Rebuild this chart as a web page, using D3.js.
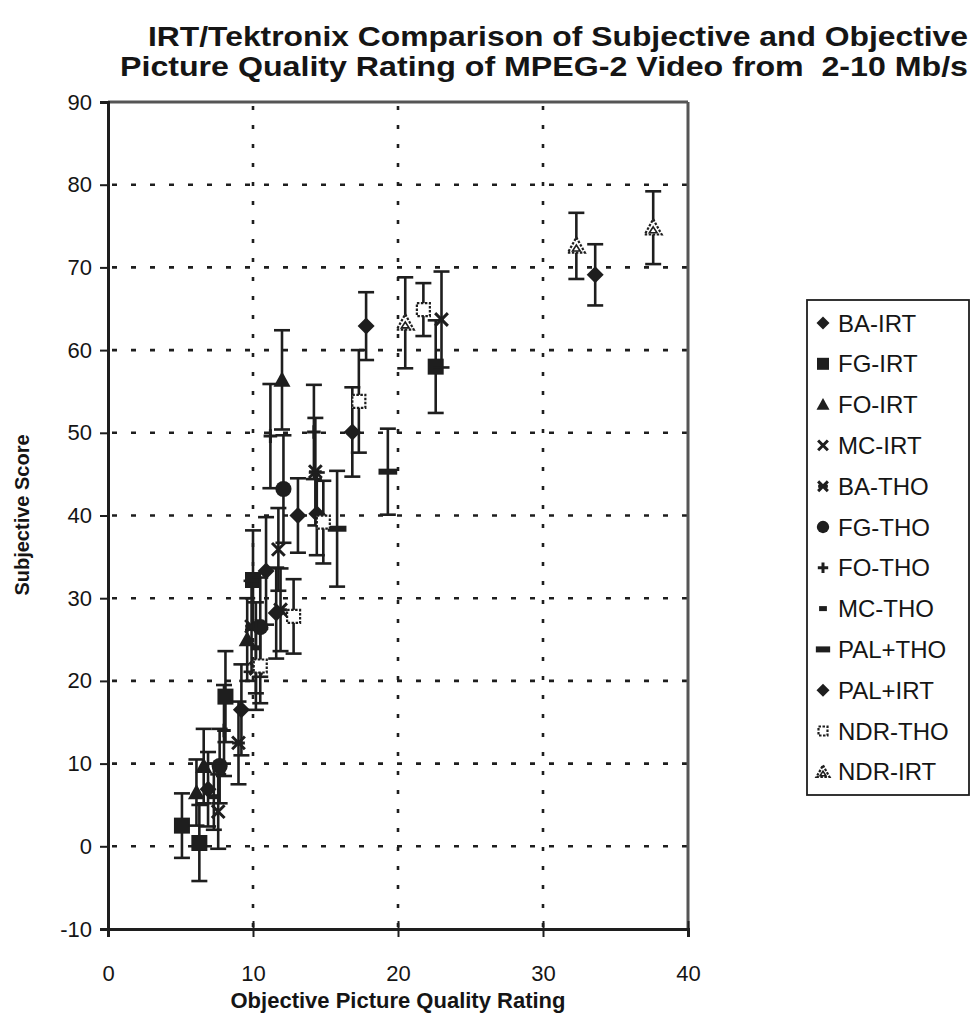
<!DOCTYPE html>
<html>
<head>
<meta charset="utf-8">
<script src="https://cdn.jsdelivr.net/npm/d3@7"></script>
<style>
  body { margin: 0; background: #fff; }
  text { font-family: "Liberation Sans", Arial, sans-serif; fill: #151515; }
</style>
</head>
<body>
<svg id="chart" width="977" height="1033"></svg>
<script>
// series names, in legend order
var seriesNames = ["BA-IRT", "FG-IRT", "FO-IRT", "MC-IRT", "BA-THO", "FG-THO",
                   "FO-THO", "MC-THO", "PAL+THO", "PAL+IRT", "NDR-THO", "NDR-IRT"];
var markerTypes = ["diamond", "square", "triangle", "cross", "star", "circle",
                   "plus", "dash", "bar", "diamond", "dotsquare", "dottri"];

// objective rating (x), subjective score (y), error half-length
var xBA_IRT = [6.9, 9.2, 10.9, 13.1, 17.8];
var yBA_IRT = [6.9, 16.5, 33.3, 40.0, 62.9];
var eBA_IRT = [4.5, 5.5, 6.5, 4.5, 4.1];

var xFG_IRT = [5.1, 6.3, 8.1, 10.0, 22.6];
var yFG_IRT = [2.5, 0.4, 18.1, 32.2, 58.0];
var eFG_IRT = [3.9, 4.6, 5.5, 6.0, 5.6];

var xFO_IRT = [6.1, 6.6, 9.6, 12.0];
var yFO_IRT = [6.5, 9.7, 25.0, 56.4];
var eFO_IRT = [4.0, 4.5, 5.0, 6.0];

var xMC_IRT = [7.6, 10.2, 11.75, 23.0];
var yMC_IRT = [4.2, 21.5, 35.9, 63.7];
var eMC_IRT = [4.5, 5.0, 5.0, 5.8];

var xBA_THO = [9.0, 9.9, 11.9, 14.3];
var yBA_THO = [12.5, 26.6, 28.6, 45.3];
var eBA_THO = [5.0, 5.5, 5.0, 6.5];

var xFG_THO = [7.7, 10.5, 12.1];
var yFG_THO = [9.7, 26.5, 43.2];
var eFG_THO = [4.5, 6.0, 6.5];

var xFO_THO = [8.0, 11.2, 14.2];
var yFO_THO = [14.0, 49.6, 50.1];
var eFO_THO = [5.5, 6.3, 5.7];

var xMC_THO = [7.3, 10.2];
var yMC_THO = [6.0, 24.0];
var eMC_THO = [4.0, 5.5];

var xPAL_THO = [15.8, 19.3];
var yPAL_THO = [38.4, 45.3];
var ePAL_THO = [7.0, 5.2];

var xPAL_IRT = [11.6, 14.4, 16.85, 33.6];
var yPAL_IRT = [28.2, 40.2, 50.1, 69.1];
var ePAL_IRT = [5.5, 5.0, 5.4, 3.7];

var xNDR_THO = [10.5, 12.8, 14.85, 17.3, 21.75];
var yNDR_THO = [21.8, 27.8, 39.2, 53.8, 64.9];
var eNDR_THO = [4.5, 4.5, 5.0, 6.2, 3.2];

var xNDR_IRT = [20.5, 32.3, 37.6];
var yNDR_IRT = [63.3, 72.6, 74.8];
var eNDR_IRT = [5.5, 4.0, 4.4];

var xTicks = [0, 10, 20, 30, 40];
var yTicks = [-10, 0, 10, 20, 30, 40, 50, 60, 70, 80, 90];

var titleLines = ["IRT/Tektronix Comparison of Subjective and Objective",
                  "Picture Quality Rating of MPEG-2 Video from\u00a0 2-10 Mb/s"];

var allX = [xBA_IRT, xFG_IRT, xFO_IRT, xMC_IRT, xBA_THO, xFG_THO, xFO_THO, xMC_THO, xPAL_THO, xPAL_IRT, xNDR_THO, xNDR_IRT];
var allY = [yBA_IRT, yFG_IRT, yFO_IRT, yMC_IRT, yBA_THO, yFG_THO, yFO_THO, yMC_THO, yPAL_THO, yPAL_IRT, yNDR_THO, yNDR_IRT];
var allE = [eBA_IRT, eFG_IRT, eFO_IRT, eMC_IRT, eBA_THO, eFG_THO, eFO_THO, eMC_THO, ePAL_THO, ePAL_IRT, eNDR_THO, eNDR_IRT];

////////////////
// layout
////////////////
var plot = { left: 108, top: 102, right: 688, bottom: 929 };
var ink = "#1e1e1e";

var svg = d3.select("#chart");

var x = d3.scaleLinear().domain([0, 40]).range([plot.left, plot.right]);
var y = d3.scaleLinear().domain([-10, 90]).range([plot.bottom, plot.top]);

// title
svg.selectAll(".title")
    .data(titleLines)
    .enter()
    .append("text")
        .attr("class", "title")
        .attr("x", function(d, i) { return i === 0 ? 558 : 544; })
        .attr("y", function(d, i) { return 46 + i * 30; })
        .attr("text-anchor", "middle")
        .attr("font-size", 28)
        .attr("font-weight", "bold")
        .attr("textLength", function(d, i) { return i === 0 ? 820 : 848; })
        .attr("lengthAdjust", "spacingAndGlyphs")
        .text(function(d) { return d; });

// gridlines
svg.append("g").selectAll("line")
    .data(yTicks.filter(function(v) { return v > -10 && v < 90; }))
    .enter()
    .append("line")
        .attr("x1", plot.left + 4).attr("x2", plot.right)
        .attr("y1", function(d) { return y(d); })
        .attr("y2", function(d) { return y(d); })
        .attr("stroke", ink)
        .attr("stroke-width", 2.6)
        .attr("stroke-dasharray", "5,14");

svg.append("g").selectAll("line")
    .data(xTicks.filter(function(v) { return v > 0 && v < 40; }))
    .enter()
    .append("line")
        .attr("x1", function(d) { return x(d); })
        .attr("x2", function(d) { return x(d); })
        .attr("y1", plot.top + 4).attr("y2", plot.bottom)
        .attr("stroke", ink)
        .attr("stroke-width", 2.6)
        .attr("stroke-dasharray", "4,15");

// frame: top/right lighter, left/bottom solid axes
svg.append("line")
    .attr("x1", plot.left).attr("x2", plot.right)
    .attr("y1", plot.top).attr("y2", plot.top)
    .attr("stroke", "#555").attr("stroke-width", 3);
svg.append("line")
    .attr("x1", plot.right).attr("x2", plot.right)
    .attr("y1", plot.top).attr("y2", plot.bottom)
    .attr("stroke", "#555").attr("stroke-width", 3);

// y axis
var yAxis = d3.axisLeft(y).tickValues(yTicks).tickSize(8).tickPadding(8)
    .tickFormat(function(d) { return String(d); });
var gy = svg.append("g")
    .attr("transform", "translate(" + plot.left + ",0)")
    .call(yAxis);
gy.select(".domain").attr("stroke", ink).attr("stroke-width", 3);
gy.selectAll(".tick line").attr("stroke", ink).attr("stroke-width", 2);
gy.selectAll(".tick text")
    .attr("font-size", 22)
    .attr("font-family", "Liberation Sans, Arial, sans-serif")
    .attr("fill", "#151515");

// x axis (ticks cross the axis line)
var xAxis = d3.axisBottom(x).tickValues(xTicks).tickSize(8).tickPadding(28)
    .tickFormat(function(d) { return String(d); });
var gx = svg.append("g")
    .attr("transform", "translate(0," + plot.bottom + ")")
    .call(xAxis);
gx.select(".domain").attr("stroke", ink).attr("stroke-width", 3);
gx.selectAll(".tick line").attr("y1", -8).attr("stroke", ink).attr("stroke-width", 2);
gx.selectAll(".tick text")
    .attr("font-size", 22)
    .attr("font-family", "Liberation Sans, Arial, sans-serif")
    .attr("fill", "#151515");

// axis titles
svg.append("text")
    .attr("x", 398).attr("y", 1008)
    .attr("text-anchor", "middle")
    .attr("font-size", 22)
    .attr("font-weight", "bold")
    .text("Objective Picture Quality Rating");

svg.append("text")
    .attr("transform", "translate(29,515) rotate(-90)")
    .attr("text-anchor", "middle")
    .attr("font-size", 20)
    .attr("font-weight", "bold")
    .text("Subjective Score");

//////////////////////
// markers
//////////////////////
function drawMarker(g, type, s) {
    // s = overall marker size in px
    var h = s / 2;
    if (type === "diamond") {
        g.append("path").attr("d", "M0," + (-h) + "L" + h + ",0L0," + h + "L" + (-h) + ",0Z").attr("fill", ink);
    } else if (type === "square") {
        g.append("rect").attr("x", -h + 0.5).attr("y", -h + 0.5).attr("width", s - 1).attr("height", s - 1).attr("fill", ink);
    } else if (type === "triangle") {
        g.append("path").attr("d", "M0," + (-h) + "L" + h + "," + (h * 0.8) + "L" + (-h) + "," + (h * 0.8) + "Z").attr("fill", ink);
    } else if (type === "cross") {
        var c = h * 0.75;
        g.append("path").attr("d", "M" + (-c) + "," + (-c) + "L" + c + "," + c + "M" + c + "," + (-c) + "L" + (-c) + "," + c)
            .attr("stroke", ink).attr("stroke-width", 3).attr("fill", "none");
    } else if (type === "star") {
        var k = h * 0.75;
        g.append("path").attr("d", "M" + (-k) + "," + (-k) + "L" + k + "," + k + "M" + k + "," + (-k) + "L" + (-k) + "," + k +
                "M" + (-k) + ",0L" + k + ",0")
            .attr("stroke", ink).attr("stroke-width", 3).attr("fill", "none");
    } else if (type === "circle") {
        g.append("circle").attr("r", h * 0.95).attr("fill", ink);
    } else if (type === "plus") {
        var p = h * 0.8;
        g.append("path").attr("d", "M" + (-p) + ",0L" + p + ",0M0," + (-p) + "L0," + p)
            .attr("stroke", ink).attr("stroke-width", 3).attr("fill", "none");
    } else if (type === "dash") {
        g.append("rect").attr("x", -h * 0.6).attr("y", -2.5).attr("width", h * 1.2).attr("height", 5).attr("fill", ink);
    } else if (type === "bar") {
        g.append("rect").attr("x", -h * 1.1).attr("y", -3).attr("width", h * 2.2).attr("height", 6).attr("fill", ink);
    } else if (type === "dotsquare") {
        g.append("rect").attr("x", -h + 2).attr("y", -h + 2).attr("width", s - 4).attr("height", s - 4)
            .attr("fill", "#fff").attr("stroke", ink).attr("stroke-width", 2.2).attr("stroke-dasharray", "2.5,1.5");
    } else if (type === "dottri") {
        g.append("path").attr("d", "M0," + (-h) + "L" + h + "," + (h * 0.8) + "L" + (-h) + "," + (h * 0.8) + "Z")
            .attr("fill", "#fff").attr("stroke", ink).attr("stroke-width", 2.2).attr("stroke-dasharray", "2.5,1.5");
        g.append("path").attr("d", "M0," + (-h * 0.1) + "L" + (h * 0.45) + "," + (h * 0.6) + "L" + (-h * 0.45) + "," + (h * 0.6) + "Z")
            .attr("fill", "none").attr("stroke", ink).attr("stroke-width", 1.6);
    }
}

// error bars and points
var capW = 8;
var layer = svg.append("g").attr("id", "points");

seriesNames.forEach(function(name, si) {
    var pts = allX[si].map(function(v, i) {
        return { x: v, y: allY[si][i], e: allE[si][i] };
    });

    var sg = layer.append("g").attr("data-series", name);

    var bars = sg.selectAll(".err")
        .data(pts)
        .enter()
        .append("g")
            .attr("class", "err");

    bars.append("line")
        .attr("x1", function(d) { return x(d.x); })
        .attr("x2", function(d) { return x(d.x); })
        .attr("y1", function(d) { return y(d.y + d.e); })
        .attr("y2", function(d) { return y(d.y - d.e); })
        .attr("stroke", ink).attr("stroke-width", 2.6);
    bars.append("line")
        .attr("x1", function(d) { return x(d.x) - capW; })
        .attr("x2", function(d) { return x(d.x) + capW; })
        .attr("y1", function(d) { return y(d.y + d.e); })
        .attr("y2", function(d) { return y(d.y + d.e); })
        .attr("stroke", ink).attr("stroke-width", 2.6);
    bars.append("line")
        .attr("x1", function(d) { return x(d.x) - capW; })
        .attr("x2", function(d) { return x(d.x) + capW; })
        .attr("y1", function(d) { return y(d.y - d.e); })
        .attr("y2", function(d) { return y(d.y - d.e); })
        .attr("stroke", ink).attr("stroke-width", 2.6);

    sg.selectAll(".pt")
        .data(pts)
        .enter()
        .append("g")
            .attr("class", "pt")
            .attr("transform", function(d) { return "translate(" + x(d.x) + "," + y(d.y) + ")"; })
            .each(function() { drawMarker(d3.select(this), markerTypes[si], 17); });
});

//////////////////////
// legend
//////////////////////
var legend = svg.append("g").attr("id", "legend");
legend.append("rect")
    .attr("x", 807).attr("y", 300)
    .attr("width", 162).attr("height", 495)
    .attr("fill", "#fff")
    .attr("stroke", ink).attr("stroke-width", 1.8);

var items = legend.selectAll(".item")
    .data(seriesNames)
    .enter()
    .append("g")
        .attr("class", "item")
        .attr("transform", function(d, i) { return "translate(0," + (323 + i * 40.8) + ")"; });

items.append("g")
    .attr("transform", "translate(823,0)")
    .each(function(d, i) { drawMarker(d3.select(this), markerTypes[i], 13); });

items.append("text")
    .attr("x", 838).attr("y", 8.5)
    .attr("font-size", 24)
    .text(function(d) { return d; });
</script>
</body>
</html>
